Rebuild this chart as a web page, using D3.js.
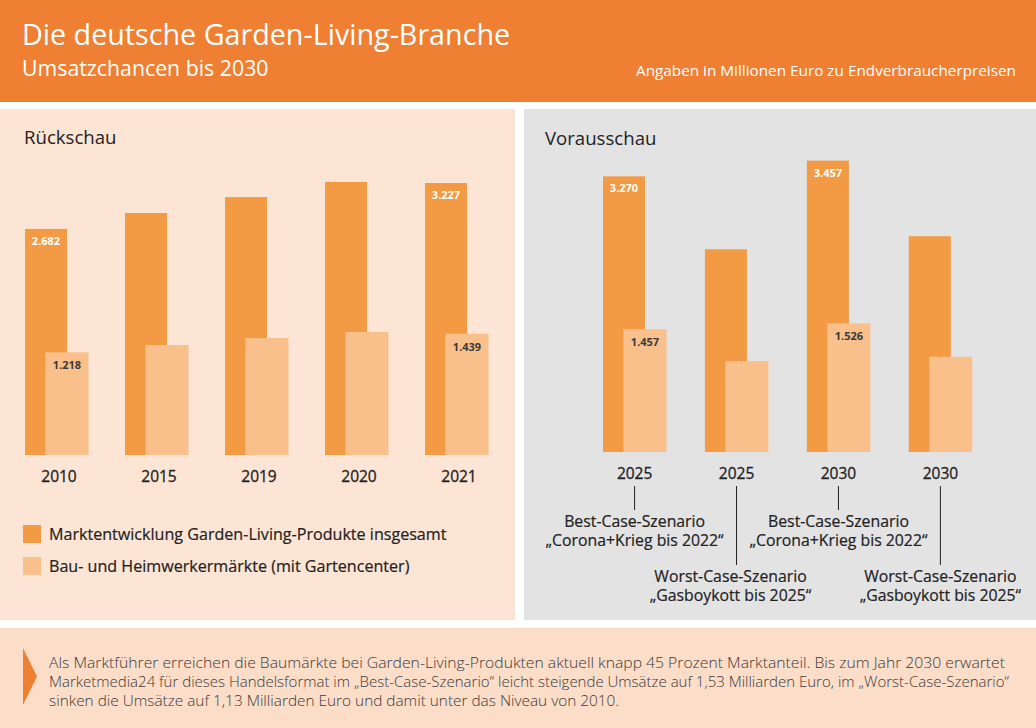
<!DOCTYPE html>
<html lang="de">
<head>
<meta charset="utf-8">
<title>Die deutsche Garden-Living-Branche</title>
<script src="https://cdn.jsdelivr.net/npm/d3@7"></script>
<style>
  html, body { margin: 0; padding: 0; background: #fff; }
  svg { display: block; font-family: 'Open Sans', sans-serif; }
</style>
</head>
<body>
<div id="chart"></div>
<script>
// ── Data ─────────────────────────────────────
const backYears   = ["2010", "2015", "2019", "2020", "2021"];
const backTotal   = [2682, 2871, 3060, 3240, 3227];
const backDiy     = [1218, 1305, 1388, 1459, 1439];
const backShowTotal = [true, false, false, false, true];
const backShowDiy   = [true, false, false, false, true];

const foreKeys    = ["best2025", "worst2025", "best2030", "worst2030"];
const foreYears   = ["2025", "2025", "2030", "2030"];
const foreTotal   = [3270, 2405, 3457, 2560];
const foreDiy     = [1457, 1078, 1526, 1130];
const foreShow    = [true, false, true, false];
const foreScenario = [
  ["Best-Case-Szenario", "\u201ECorona+Krieg bis 2022\u201C"],
  ["Worst-Case-Szenario", "\u201EGasboykott bis 2025\u201C"],
  ["Best-Case-Szenario", "\u201ECorona+Krieg bis 2022\u201C"],
  ["Worst-Case-Szenario", "\u201EGasboykott bis 2025\u201C"]
];
const foreLong    = [false, true, false, true];

const legendLabels = [
  "Marktentwicklung Garden-Living-Produkte insgesamt",
  "Bau- und Heimwerkermärkte (mit Gartencenter)"
];
const footerLines = [
  "Als Marktführer erreichen die Baumärkte bei Garden-Living-Produkten aktuell knapp 45 Prozent Marktanteil. Bis zum Jahr 2030 erwartet",
  "Marketmedia24 für dieses Handelsformat im \u201EBest-Case-Szenario\u201C leicht steigende Umsätze auf 1,53 Milliarden Euro, im \u201EWorst-Case-Szenario\u201C",
  "sinken die Umsätze auf 1,13 Milliarden Euro und damit unter das Niveau von 2010."
];

// ── Styles ───────────────────────────────────
const ORANGE      = "#EE7F33";
const DARK_BAR    = "#F39A44";
const LIGHT_BAR   = "#F9C08B";
const PEACH_BG    = "#FDE5D5";
const GREY_BG     = "#E3E3E4";
const FOOT_BG     = "#FCDDC8";
const TEXT        = "#222222";
const W = 1036, H = 728;

const svg = d3.select("#chart").append("svg")
  .attr("width", W).attr("height", H);

// ── Header ───────────────────────────────────
svg.append("rect").attr("x", 0).attr("y", 0).attr("width", W).attr("height", 102).attr("fill", ORANGE);
svg.append("text").attr("x", 22).attr("y", 45)
  .attr("font-size", "28.7px").attr("fill", "#fff")
  .text("Die deutsche Garden-Living-Branche");
svg.append("text").attr("x", 22).attr("y", 76)
  .attr("font-size", "21.3px").attr("fill", "#fff")
  .text("Umsatzchancen bis 2030");
svg.append("text").attr("x", 1016).attr("y", 76)
  .attr("text-anchor", "end").attr("font-size", "15.3px").attr("fill", "#fff")
  .text("Angaben in Millionen Euro zu Endverbraucherpreisen");

// ── Panels ───────────────────────────────────
svg.append("rect").attr("x", 0).attr("y", 109).attr("width", 515).attr("height", 511).attr("fill", PEACH_BG);
svg.append("rect").attr("x", 524).attr("y", 109).attr("width", 512).attr("height", 511).attr("fill", GREY_BG);
svg.append("rect").attr("x", 0).attr("y", 628).attr("width", W).attr("height", 100).attr("fill", FOOT_BG);

svg.append("text").attr("x", 24).attr("y", 144)
  .attr("font-size", "18.6px").attr("fill", TEXT).text("Rückschau");
svg.append("text").attr("x", 545).attr("y", 145)
  .attr("font-size", "18.6px").attr("fill", TEXT).text("Vorausschau");

// ── Bar helper ───────────────────────────────
const DARK_W = 42, LIGHT_W = 43, LIGHT_OFF = 20.5;

function drawGroups(g, keys, xScale, yScale, total, diy, showTotal, showDiy) {
  const base = yScale(0);
  const rows = keys.map((k, i) => ({ k, i, total: total[i], diy: diy[i] }));

  g.selectAll(".bar-total").data(rows).join("rect")
    .attr("class", "bar-total")
    .attr("x", d => xScale(d.k))
    .attr("y", d => yScale(d.total))
    .attr("width", DARK_W)
    .attr("height", d => base - yScale(d.total))
    .attr("fill", DARK_BAR);

  g.selectAll(".bar-diy").data(rows).join("rect")
    .attr("class", "bar-diy")
    .attr("x", d => xScale(d.k) + LIGHT_OFF)
    .attr("y", d => yScale(d.diy))
    .attr("width", LIGHT_W)
    .attr("height", d => base - yScale(d.diy))
    .attr("fill", LIGHT_BAR);

  const fmt = v => d3.format(",")(v).replace(/,/g, ".");

  g.selectAll(".lab-total").data(rows.filter(d => showTotal[d.i])).join("text")
    .attr("class", "lab-total")
    .attr("x", d => xScale(d.k) + DARK_W / 2)
    .attr("y", d => yScale(d.total) + 16)
    .attr("text-anchor", "middle").attr("font-size", "11px").attr("font-weight", "700")
    .attr("fill", "#fff")
    .text(d => fmt(d.total));

  g.selectAll(".lab-diy").data(rows.filter(d => showDiy[d.i])).join("text")
    .attr("class", "lab-diy")
    .attr("x", d => xScale(d.k) + LIGHT_OFF + LIGHT_W / 2)
    .attr("y", d => yScale(d.diy) + 17)
    .attr("text-anchor", "middle").attr("font-size", "11px").attr("font-weight", "700")
    .attr("fill", "#3a3a3a")
    .text(d => fmt(d.diy));
}

// ── Rückschau ────────────────────────────────
const xBack = d3.scaleBand().domain(backYears).range([25, 489]).paddingInner(0.36).paddingOuter(0);
const yBack = d3.scaleLinear().domain([0, 3500]).range([455, 160]);
const gBack = svg.append("g");
drawGroups(gBack, backYears, xBack, yBack, backTotal, backDiy, backShowTotal, backShowDiy);

const axBack = svg.append("g").attr("transform", "translate(0,455)")
  .call(d3.axisBottom(xBack).tickSize(0).tickPadding(0));
axBack.select(".domain").remove();
axBack.selectAll("text")
  .attr("y", 27).attr("dy", 0).attr("dx", 2)
  .attr("font-family", "'Open Sans', sans-serif")
  .attr("font-size", "15.5px").attr("font-weight", "500").attr("fill", TEXT)
  .attr("stroke", TEXT).attr("stroke-width", 0.3);

// ── Vorausschau ──────────────────────────────
const xFore = d3.scaleBand().domain(foreKeys).range([603, 972]).paddingInner(0.38).paddingOuter(0);
const yFore = d3.scaleLinear().domain([0, 3500]).range([452, 157]);
const gFore = svg.append("g");
drawGroups(gFore, foreKeys, xFore, yFore, foreTotal, foreDiy, foreShow, foreShow);

const axFore = svg.append("g").attr("transform", "translate(0,452)")
  .call(d3.axisBottom(xFore).tickSize(0).tickPadding(0)
    .tickFormat((k, i) => foreYears[i]));
axFore.select(".domain").remove();
axFore.selectAll("text")
  .attr("y", 27).attr("dy", 0)
  .attr("font-family", "'Open Sans', sans-serif")
  .attr("font-size", "15.5px").attr("font-weight", "500").attr("fill", TEXT)
  .attr("stroke", TEXT).attr("stroke-width", 0.3);

// scenario call-outs
const callouts = svg.append("g").selectAll("g").data(foreKeys).join("g")
  .attr("transform", k => `translate(${xFore(k) + xFore.bandwidth() / 2},0)`);
callouts.append("line")
  .attr("x1", 0).attr("x2", 0).attr("y1", 486)
  .attr("y2", (k, i) => foreLong[i] ? 565 : 510)
  .attr("stroke", TEXT).attr("stroke-width", 1);
callouts.each(function (k, i) {
  const top = foreLong[i] ? 582 : 527;
  const dx = i === 1 ? -6 : 0;
  const t = d3.select(this).append("text")
    .attr("text-anchor", "middle").attr("font-size", "15.8px").attr("fill", TEXT)
    .attr("stroke", TEXT).attr("stroke-width", 0.2);
  foreScenario[i].forEach((line, j) => {
    t.append("tspan").attr("x", dx)
      .attr("y", top + j * 19).text(line);
  });
});

// ── Legend ───────────────────────────────────
const legend = svg.append("g").selectAll("g").data(legendLabels).join("g")
  .attr("transform", (d, i) => `translate(23,${525 + i * 32})`);
legend.append("rect").attr("width", 18).attr("height", 18)
  .attr("fill", (d, i) => i === 0 ? DARK_BAR : LIGHT_BAR);
legend.append("text").attr("x", 26).attr("y", 14.5)
  .attr("font-size", "16.1px").attr("fill", TEXT)
  .attr("stroke", TEXT).attr("stroke-width", 0.2)
  .text(d => d);

// ── Footer ───────────────────────────────────
svg.append("path")
  .attr("d", "M23,648 L37,676.5 L23,705 Z")
  .attr("fill", ORANGE);
const footLens = [956, 960, 570];
svg.append("g").selectAll("text").data(footerLines).join("text")
  .attr("x", 49).attr("y", (d, i) => 668 + i * 19)
  .attr("font-size", "14px").attr("font-weight", "300").attr("fill", "#3a3a3a")
  .attr("textLength", (d, i) => footLens[i])
  .attr("lengthAdjust", "spacingAndGlyphs")
  .text(d => d);
</script>
</body>
</html>
